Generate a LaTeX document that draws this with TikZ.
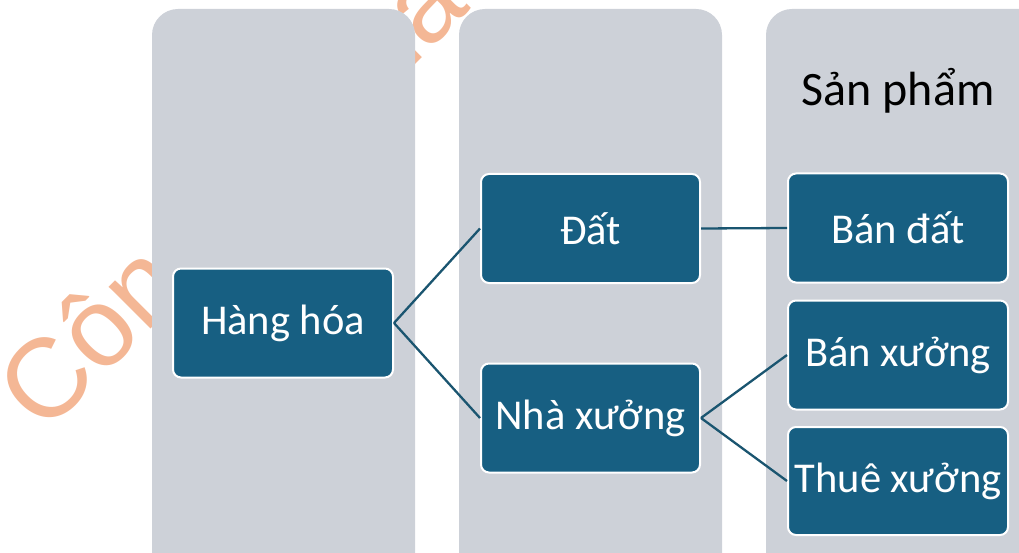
\documentclass[tikz,border=0pt]{standalone}
\usepackage{fontspec}
\setmainfont{Carlito}
\newfontfamily\wmfont{Liberation Sans}
\definecolor{colgray}{HTML}{CDD1D8}
\definecolor{boxblue}{HTML}{175F82}
\definecolor{linkblue}{HTML}{1A5570}
\definecolor{wmorange}{HTML}{F4B795}
\tikzset{
  colbox/.style={fill=colgray, draw=none, rounded corners=26pt},
  itembox/.style={fill=boxblue, draw=white, line width=2pt, rounded corners=8pt,
    text=white, font=\fontsize{42.5}{48}\selectfont, inner sep=0pt},
  link/.style={draw=linkblue, line width=2.3pt},
}
\begin{document}
\begin{tikzpicture}[x=1pt,y=-1pt]
\useasboundingbox (0,0) rectangle (1019,553);
\clip (0,0) rectangle (1019,553);
% watermark (behind)
\node[anchor=base west, rotate=45, text=wmorange, inner sep=0pt,
  font=\wmfont\fontsize{112}{120}\selectfont] (wm) at (44,436) {Công ty nhà đất};
% columns
\path[colbox] (152,9) rectangle (415,580);
\path[colbox] (459,9) rectangle (722,580);
\path[colbox] (766,9) rectangle (1060,580);
\node[font=\fontsize{48}{56}\selectfont, text=black, anchor=base] (title) at (898,106) {Sản phẩm};
% items
\node[itembox, minimum width=220pt, minimum height=109pt] (hh) at (283,323) {Hàng hóa};
\node[itembox, minimum width=219pt, minimum height=109pt] (dat) at (590.5,228.5) {Đất};
\node[itembox, minimum width=219pt, minimum height=109pt] (nx) at (590.5,418) {Nhà xưởng};
\node[itembox, minimum width=220pt, minimum height=109pt] (bd) at (898,228) {Bán đất};
\node[itembox, minimum width=220pt, minimum height=109pt] (bx) at (898,355) {Bán xưởng};
\node[itembox, minimum width=220pt, minimum height=108pt] (tx) at (898,481) {Thuê xưởng};
% links
\draw[link] (hh.east) -- (dat.west);
\draw[link] (hh.east) -- (nx.west);
\draw[link] (dat.east) -- (bd.west);
\draw[link] (nx.east) -- (bx.west);
\draw[link] (nx.east) -- (tx.west);
\end{tikzpicture}
\end{document}
